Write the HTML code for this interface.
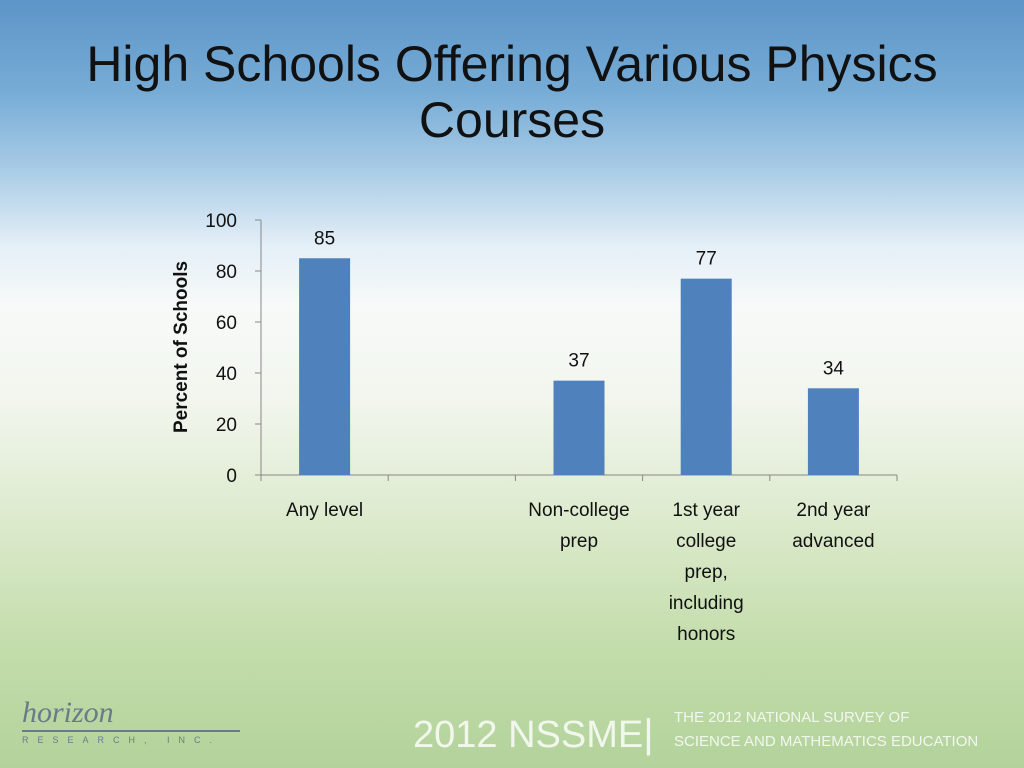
<!DOCTYPE html>
<html><head><meta charset="utf-8"><style>
body{margin:0;width:1024px;height:768px;overflow:hidden;font-family:"Liberation Sans",sans-serif;}
#bg{position:absolute;left:0;top:0;width:1024px;height:768px;background:linear-gradient(to bottom,#5d95c8 0%,#77acd6 12%,#a8cbe6 22%,#e4eff7 32%,#f7faf8 40%,#f2f6ee 52%,#dceacc 68%,#c2dcaa 85%,#b3d39b 100%);}
#title{position:absolute;left:0;top:36px;width:1024px;text-align:center;font-size:50px;line-height:56px;color:#111;}
svg text{font-family:"Liberation Sans",sans-serif;}
</style></head><body>
<div id="bg"></div>
<div id="title">High Schools Offering Various Physics<br>Courses</div>
<svg id="chart" width="1024" height="768" style="position:absolute;left:0;top:0"></svg>
<div style="position:absolute;left:22px;top:700px;width:220px;height:50px;">
<div style="font-family:'Liberation Serif',serif;font-style:italic;font-size:30px;color:#6a7a88;position:absolute;left:0;top:-4px;">horizon</div>
<div style="position:absolute;left:0;top:30px;width:218px;height:2px;background:#6a7a88"></div>
<div style="position:absolute;left:0;top:35px;font-size:9px;letter-spacing:9px;color:#6a7a88">RESEARCH, INC.</div>
</div>
<div style="position:absolute;left:413px;top:712px;font-size:38px;color:#f2f7ee;">2012 NSSME<span style="font-size:40px">|</span></div>
<div style="position:absolute;left:674px;top:706px;font-size:15px;line-height:24px;color:#f2f7ee;">THE 2012 NATIONAL SURVEY OF<br>SCIENCE AND MATHEMATICS EDUCATION</div>
<script>
const categories=[["Any level"],[],["Non-college","prep"],["1st year","college","prep,","including","honors"],["2nd year","advanced"]];
const values=[85,null,37,77,34];
const ticks=[0,20,40,60,80,100];
const NS="http://www.w3.org/2000/svg";
const svg=document.getElementById("chart");
const x0=261,x1=897,y0=475,y1=220;
const band=(x1-x0)/categories.length;
const y=v=>y0-(v/100)*(y0-y1);
const xc=i=>x0+band*(i+0.5);
function mk(t,a,txt){const e=document.createElementNS(NS,t);for(const k in a)e.setAttribute(k,a[k]);if(txt!=null)e.textContent=txt;svg.appendChild(e);return e;}
let e=mk("line",{x1:x0,y1:y1,x2:x0,y2:y0,stroke:"#888"});


e=mk("line",{x1:x0,y1:y0,x2:x1,y2:y0,stroke:"#888"});


ticks.forEach(t=>{
 let l=mk("line",{x1:x0-6,y1:y(t),x2:x0,y2:y(t),stroke:"#888"});
 
 
 let tx=mk("text",{x:x0-24,y:y(t)+7,"text-anchor":"end","font-size":"19",fill:"#111"},t);
 
 
});
for(let i=0;i<=categories.length;i++){
 let l=mk("line",{x1:x0+band*i,y1:y0,x2:x0+band*i,y2:y0+6,stroke:"#888"});
 
 
}
let yt=mk("text",{x:0,y:0,transform:"translate(187,347) rotate(-90)","text-anchor":"middle","font-size":"19","font-weight":"bold",fill:"#111"},"Percent of Schools");


categories.forEach((c,i)=>{
 c.forEach((s,j)=>{
  let t=mk("text",{x:xc(i),y:516+j*31,"text-anchor":"middle","font-size":"19",fill:"#111"},s);
  
  
 });
 const v=values[i];
 if(v==null)return;
 let r=mk("rect",{x:xc(i)-25.5,y:y(v),width:51,height:y0-y(v),fill:"#4f81bd"});
 
 
 let lb=mk("text",{x:xc(i),y:y(v)-14,"text-anchor":"middle","font-size":"19",fill:"#111"},v);
 
 
});
</script>
</body></html>
